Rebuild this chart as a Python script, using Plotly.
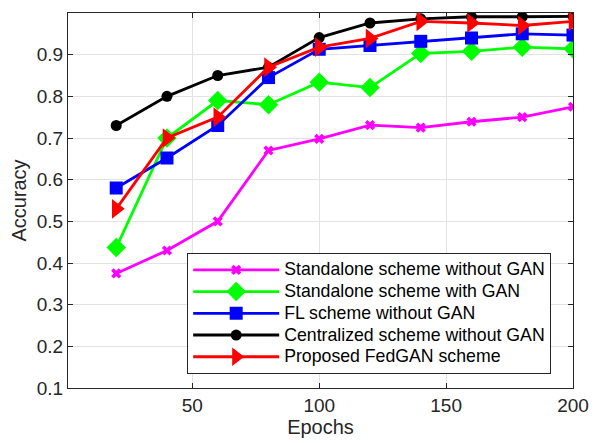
import plotly.graph_objects as go

epochs = [20, 40, 60, 80, 100, 120, 140, 160, 180, 200]
standalone_no_gan = [0.375, 0.43, 0.50, 0.67, 0.698, 0.731, 0.725, 0.739, 0.75, 0.775]
standalone_gan = [0.437, 0.70, 0.79, 0.78, 0.834, 0.821, 0.903, 0.908, 0.918, 0.914]
fl_no_gan = [0.58, 0.652, 0.73, 0.845, 0.913, 0.922, 0.932, 0.940, 0.950, 0.947]
centralized_no_gan = [0.73, 0.80, 0.85, 0.87, 0.941, 0.976, 0.986, 0.991, 0.991, 0.992]
fedgan = [0.53, 0.70, 0.75, 0.87, 0.918, 0.939, 0.980, 0.976, 0.970, 0.980]

names = ["Standalone scheme without GAN", "Standalone scheme with GAN",
         "FL scheme without GAN", "Centralized scheme without GAN",
         "Proposed FedGAN scheme"]
series = [standalone_no_gan, standalone_gan, fl_no_gan, centralized_no_gan, fedgan]
colors = ["#ff00ff", "#00ff00", "#0000ff", "#000000", "#ff0000"]
symbols = ["x", "diamond", "square", "circle", "triangle-right"]
sizes = [9, 15, 13, 11, 17]

fig = go.Figure()
for n, s, c, sym, sz in zip(names, series, colors, symbols, sizes):
    fig.add_trace(go.Scatter(
        x=epochs, y=s, name='<span style="font-size:17.7px">' + n + '</span>',
        mode="lines+markers",
        line=dict(color=c, width=2.8),
        marker=dict(symbol=sym, size=sz, color=c, line=dict(width=0)),
    ))

font = "Liberation Sans, Arial, Helvetica, sans-serif"
axis_common = dict(
    showline=True, linecolor="#262626", linewidth=1, mirror="ticks",
    ticks="inside", ticklen=5, tickcolor="#262626",
    showgrid=True, gridcolor="#e3e3e3", gridwidth=1,
    zeroline=False, tickfont=dict(size=19, color="#262626", family=font),
    automargin=False,
)
fig.update_layout(
    width=595, height=443,
    margin=dict(l=68, r=22, t=13, b=55),
    paper_bgcolor="white", plot_bgcolor="white",
    font=dict(family=font, color="#262626"),
    xaxis=dict(range=[1, 200], tickvals=[50, 100, 150, 200],
               title=dict(text="Epochs", font=dict(size=20), standoff=2), **axis_common),
    yaxis=dict(range=[0.1, 1.0], tickvals=[0.1, 0.2, 0.3, 0.4, 0.5, 0.6, 0.7, 0.8, 0.9],
               tickformat=".1f",
               title=dict(text="Accuracy", font=dict(size=20), standoff=4), **axis_common),
    legend=dict(x=0.236, y=0.36, xanchor="left", yanchor="top",
                bgcolor="white", bordercolor="#262626", borderwidth=1,
                font=dict(size=14.4, color="#000000", family=font),
                tracegroupgap=0, itemwidth=86),
    showlegend=True,
)
fig.write_html("out.html")
